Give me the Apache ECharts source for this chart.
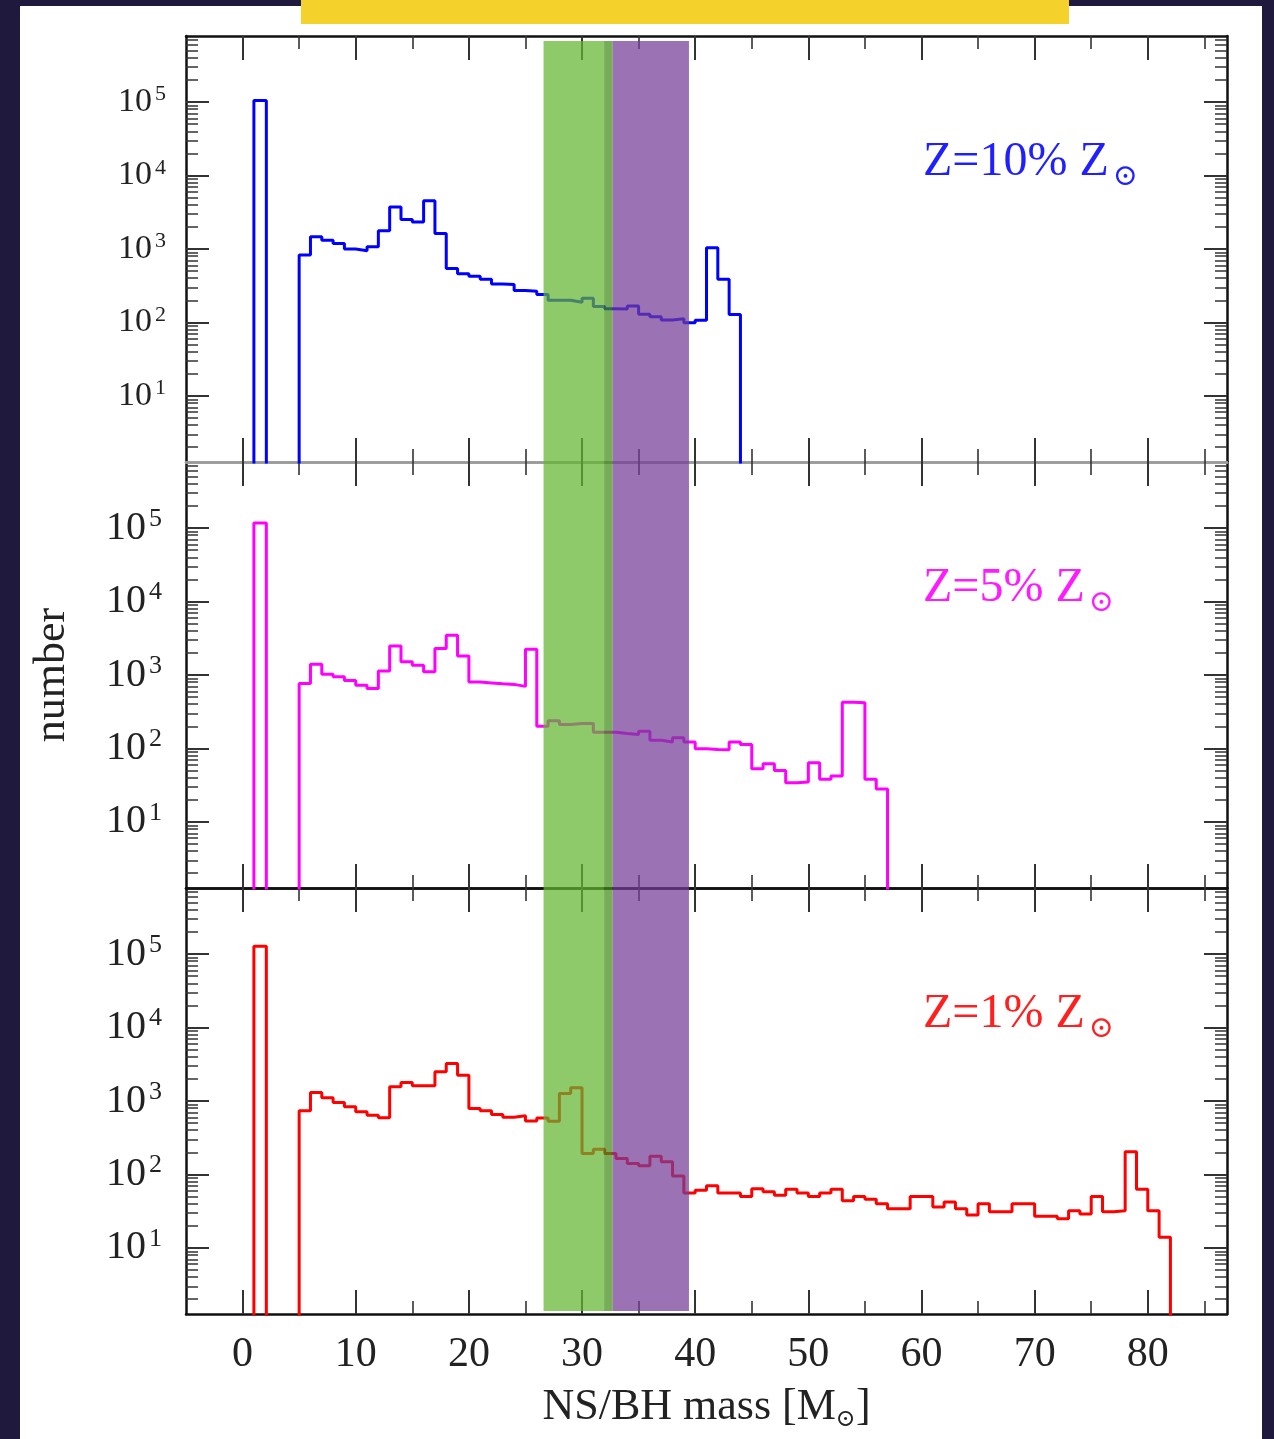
<!DOCTYPE html>
<html><head><meta charset="utf-8">
<script src="https://cdn.jsdelivr.net/npm/echarts@6/dist/echarts.min.js"></script>
<style>
html,body{margin:0;padding:0;background:#1f1a3d;width:1274px;height:1439px;overflow:hidden}
#paper{position:absolute;left:20px;top:6px;width:1242px;height:1433px;background:#fff}
#bar{position:absolute;left:301px;top:0;width:768px;height:24px;background:#f4d22b}
#chart{position:absolute;left:0;top:0;width:1274px;height:1439px}
</style></head><body>
<div id="paper"></div><div id="bar"></div><div id="chart"></div>
<script>
// ---------------- data ----------------
// BH histogram: bins 1 Msun wide, first bin starts at 5 Msun
const bhFirstBin = 5;
// NS peak bin edges (Msun) and heights per panel
const nsBinEdges = [1.0, 2.1];
const nsPeak = [105000, 117000, 128000];
// Z = 10% Zsun (bins 5..43)
const z10Counts = [826,1470,1320,1190,1000,946,1070,1770,3740,2520,2340,4550,1630,544,460,425,388,333,328,272,266,240,200,200,188,213,165,154,152,167,129,120,108,112,99,107,1040,388,128];
// Z = 5% Zsun (bins 5..56)
const z5Counts = [768,1400,1020,950,844,728,656,1130,2480,1510,1360,1110,2290,3470,1810,800,780,760,745,700,2250,200,238,212,219,219,166,166,160,155,172,129,122,140,122,99,97,96,122,113,53,62,50,34,35,64,38,42,427,419,38,28];
// Z = 1% Zsun (bins 5..81)
const z1Counts = [736,1306,1106,955,834,713,641,590,1560,1786,1611,1611,2500,3243,2250,791,735,655,602,628,535,589,531,1264,1514,193,220,193,165,141,131,177,149,95,56,61,70,56,56,50,64,58,52,63,56,50,56,63,44,50,46,40,34,34,50,50,36,42,34,28,40,31,31,40,40,27,27,25,32,29,50,31,32,203,63,32,14];
const panelNames = ['Z=10% Z', 'Z=5% Z', 'Z=1% Z'];
const xTickLabels = [0,10,20,30,40,50,60,70,80];
const xMinorTicks = [5,15,25,35,45,55,65,75,85];
const yMajorTicks = [10,100,1000,10000,100000];
const yMinorTicks = [];
for (let e = 0; e <= 5; e++) for (let k = 2; k <= 9; k++) yMinorTicks.push(k * Math.pow(10, e));
// shaded mass ranges (Msun)
const bandGreen = [26.6, 31.95];
const bandOverlap = [31.95, 32.7];
const bandPurple = [32.7, 39.45];

// ---------------- build ----------------
const serif = '"Liberation Serif","DejaVu Serif",serif';
const LOGMIN = Math.pow(10, 0.1), LOGMAX = Math.pow(10, 5.9), FLOOR = 1;
const allCounts = [z10Counts, z5Counts, z1Counts];
const colors = ['#0000ff', '#ff00ff', '#ff0000'];
const textColors = ['#1f1fff', '#ff1aff', '#ff1f1f'];
const gridTops = [36, 462, 888];
const GH = 426;
const lblSize = [34, 40, 40], supSize = [22, 26, 26], lblMargin = [20, 24, 24];

function stepPoints(start, counts) {
  const pts = [[start, FLOOR]];
  counts.forEach((c, i) => { pts.push([start + i, c]); pts.push([start + i + 1, c]); });
  pts.push([start + counts.length, FLOOR]);
  return pts;
}
function nsPoints(h) {
  return [[nsBinEdges[0], FLOOR], [nsBinEdges[0], h], [nsBinEdges[1], h], [nsBinEdges[1], FLOOR]];
}

const grid = [], xAxis = [], yAxis = [], series = [];
const tickStyle = {color: '#333', width: 2};
for (let i = 0; i < 3; i++) {
  grid.push({left: 186, right: 47, top: gridTops[i], height: GH});
  const topLineColor = i === 1 ? '#9a9a9a' : '#111';
  const botLineColor = i === 0 ? '#9a9a9a' : '#111';
  const xb = {gridIndex: i, type: 'value', min: -5, max: 87, splitLine: {show: false}};
  xAxis.push(Object.assign({}, xb, {position: 'bottom',
    axisLine: {show: true, onZero: false, lineStyle: {color: botLineColor, width: 2.5}},
    axisTick: {inside: true, length: 24, customValues: xTickLabels, lineStyle: tickStyle},
    axisLabel: {show: i === 2, customValues: xTickLabels, margin: 20, fontFamily: serif, fontSize: 42, color: '#222'},
    name: i === 2 ? 'NS/BH mass [M{s|⊙}]' : '', nameLocation: 'middle', nameGap: 68,
    nameTextStyle: {fontFamily: serif, fontSize: 44, color: '#222', rich: {s: {fontSize: 24, fontFamily: serif, color: '#222', padding: [26, 0, 0, 0]}}}
  }));
  xAxis.push(Object.assign({}, xb, {position: 'bottom', axisLine: {show: false, onZero: false},
    axisTick: {inside: true, length: 13, customValues: xMinorTicks, lineStyle: {color: '#333', width: 1.6}}, axisLabel: {show: false}}));
  xAxis.push(Object.assign({}, xb, {position: 'top',
    axisLine: {show: true, onZero: false, lineStyle: {color: topLineColor, width: 2.5}},
    axisTick: {inside: true, length: 24, customValues: xTickLabels, lineStyle: tickStyle}, axisLabel: {show: false}}));
  xAxis.push(Object.assign({}, xb, {position: 'top', axisLine: {show: false, onZero: false},
    axisTick: {inside: true, length: 13, customValues: xMinorTicks, lineStyle: {color: '#333', width: 1.6}}, axisLabel: {show: false}}));

  const yb = {gridIndex: i, type: 'log', logBase: 10, min: LOGMIN, max: LOGMAX, splitLine: {show: false}};
  yAxis.push(Object.assign({}, yb, {position: 'left',
    axisLine: {show: true, onZero: false, lineStyle: {color: '#111', width: 2.5}},
    axisTick: {inside: true, length: 23, customValues: yMajorTicks, lineStyle: tickStyle},
    axisLabel: {show: true, customValues: yMajorTicks, margin: lblMargin[i], color: '#222',
      formatter: v => '{b|10}{e|' + Math.round(Math.log10(v)) + '}',
      rich: {b: {fontFamily: serif, fontSize: lblSize[i], color: '#222'},
             e: {fontFamily: serif, fontSize: supSize[i], color: '#222', padding: [0, 0, Math.round(lblSize[i] * 0.45), 3]}}},
    name: i === 1 ? 'number' : '', nameLocation: 'middle', nameGap: 112,
    nameTextStyle: {fontFamily: serif, fontSize: 44, color: '#222'}
  }));
  yAxis.push(Object.assign({}, yb, {position: 'left', axisLine: {show: false, onZero: false},
    axisTick: {inside: true, length: 12, customValues: yMinorTicks, lineStyle: {color: '#333', width: 1.5}}, axisLabel: {show: false}}));
  yAxis.push(Object.assign({}, yb, {position: 'right',
    axisLine: {show: true, onZero: false, lineStyle: {color: '#111', width: 2.5}},
    axisTick: {inside: true, length: 23, customValues: yMajorTicks, lineStyle: tickStyle}, axisLabel: {show: false}}));
  yAxis.push(Object.assign({}, yb, {position: 'right', axisLine: {show: false, onZero: false},
    axisTick: {inside: true, length: 12, customValues: yMinorTicks, lineStyle: {color: '#333', width: 1.5}}, axisLabel: {show: false}}));

  const common = {type: 'line', xAxisIndex: 4 * i, yAxisIndex: 4 * i, showSymbol: false, symbol: 'none',
    clip: true, silent: true, animation: false, z: 2,
    lineStyle: {color: colors[i], width: 3}, itemStyle: {color: colors[i]}};
  series.push(Object.assign({}, common, {name: 'ns' + i, data: nsPoints(nsPeak[i])}));
  series.push(Object.assign({}, common, {name: panelNames[i], data: stepPoints(bhFirstBin, allCounts[i])}));
}
// overlay grid for the shaded bands spanning all panels
grid.push({left: 186, right: 47, top: 41, height: 1270});
xAxis.push({gridIndex: 3, type: 'value', min: -5, max: 87, show: false});
yAxis.push({gridIndex: 3, type: 'value', min: 0, max: 1, show: false});
const bandColors = ['rgba(99,180,48,0.72)', 'rgba(67,140,23,0.72)', 'rgba(116,61,151,0.72)'];
series.push({
  type: 'custom', xAxisIndex: 12, yAxisIndex: 12, z: 10, silent: true, animation: false,
  data: [[bandGreen[0], bandGreen[1], 0], [bandOverlap[0], bandOverlap[1], 1], [bandPurple[0], bandPurple[1], 2]],
  renderItem: (params, api) => {
    const p0 = api.coord([api.value(0), 1]);
    const p1 = api.coord([api.value(1), 0]);
    return {type: 'rect', shape: {x: p0[0], y: p0[1], width: p1[0] - p0[0], height: p1[1] - p0[1]},
      style: {fill: bandColors[api.value(2)], stroke: null}};
  }
});

const graphic = panelNames.map((t, i) => ({
  type: 'text', x: 923, y: 162 + 426 * i, z: 20,
  style: {text: t + '{s|⊙}', fill: textColors[i], font: '48px ' + serif, verticalAlign: 'middle',
    rich: {s: {fontSize: 30, fontFamily: serif, fill: textColors[i], padding: [30, 0, 0, 4]}}}
}));

const chart = echarts.init(document.getElementById('chart'), null, {renderer: 'canvas'});
chart.setOption({backgroundColor: 'transparent', animation: false, grid, xAxis, yAxis, series, graphic});
</script>
</body></html>
